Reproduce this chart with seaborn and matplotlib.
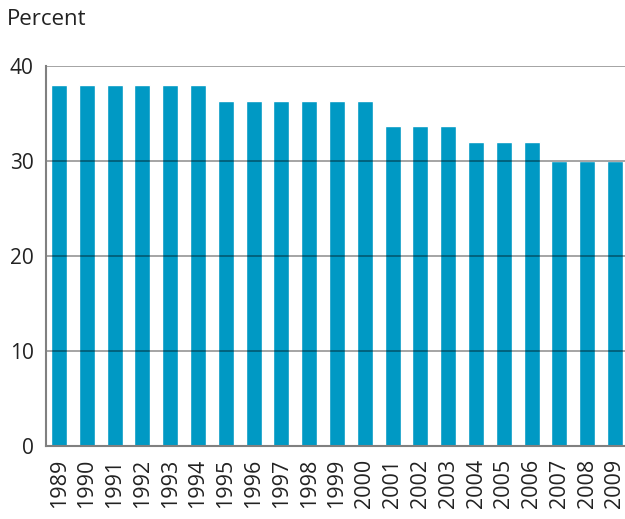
import matplotlib
matplotlib.use('Agg')
import matplotlib.pyplot as plt
import pandas as pd
import seaborn as sns

# Data
years = [str(y) for y in range(1989, 2010)]
rates = [38.0, 38.0, 38.0, 38.0, 38.0, 38.0,
         36.3, 36.3, 36.3, 36.3, 36.3, 36.3,
         33.7, 33.7, 33.7,
         32.0, 32.0, 32.0,
         30.0, 30.0, 30.0]

df = pd.DataFrame({'year': years, 'rate': rates})

sns.set_style('white')
plt.rcParams['font.family'] = ['Open Sans', 'DejaVu Sans']

fig = plt.figure(figsize=(6.25, 5.19), dpi=100)
ax = fig.add_axes([46 / 625, 73 / 519, 579 / 625, 380 / 519])

sns.barplot(data=df, x='year', y='rate', color='#0099c4', saturation=1,
            width=0.575, ax=ax)

ax.set_ylim(0, 40)
ax.set_xlim(-0.47, 20.36)
ax.set_yticks([0, 10, 20, 30, 40])
for y in [10, 20, 30, 40]:
    ax.axhline(y, color='black', alpha=0.42, lw=1.2, zorder=5)

ax.set_xlabel('')
ax.set_ylabel('')
for side in ['top', 'right']:
    ax.spines[side].set_visible(False)
for side in ['left', 'bottom']:
    ax.spines[side].set_color('#808080')
    ax.spines[side].set_linewidth(1.5)
    ax.spines[side].set_zorder(6)

ax.tick_params(axis='y', length=0, pad=9, labelsize=15, colors='#222222')
ax.tick_params(axis='x', length=0, pad=9, labelsize=15.5, colors='#222222',
               rotation=90)
for lbl in ax.get_xticklabels():
    lbl.set_va('top')

fig.text(7 / 625, 1 - 9 / 519, 'Percent', fontsize=16,
         color='#222222', ha='left', va='top')

fig.savefig('out.png', dpi=100)
